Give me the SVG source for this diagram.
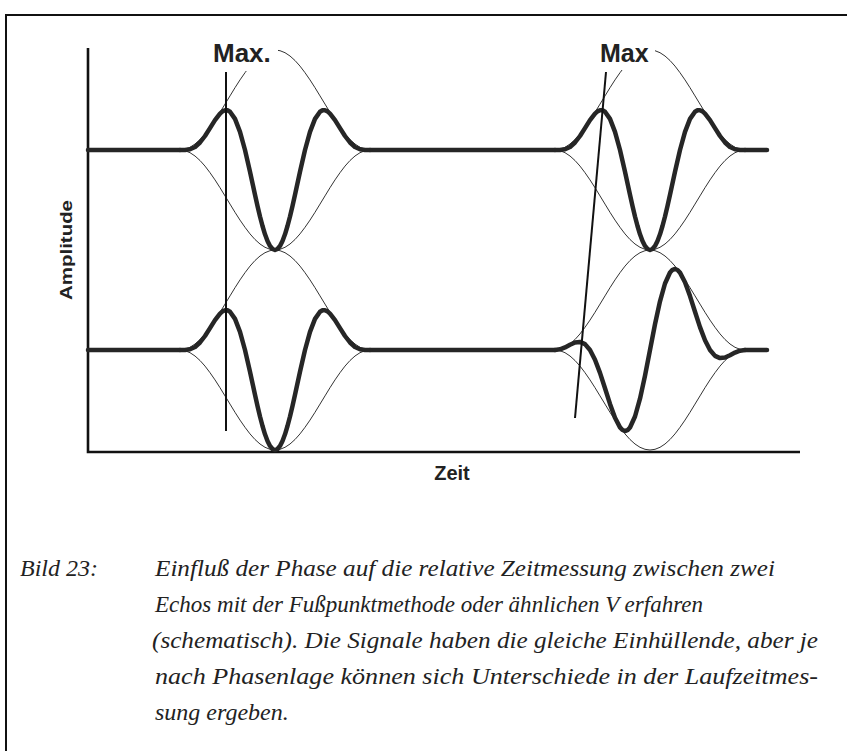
<svg xmlns="http://www.w3.org/2000/svg" xmlns:xlink="http://www.w3.org/1999/xlink" width="847" height="751" viewBox="0 0 847 751">
  <style>
    .frame { fill: none; stroke: #111; stroke-width: 2; }
    .axis { fill: none; stroke: #111; stroke-width: 2.6; stroke-linecap: butt; }
    .env { fill: none; stroke: #333; stroke-width: 1; stroke-linejoin: round; }
    .sig { fill: none; stroke: #262626; stroke-width: 4.5; stroke-linejoin: round; stroke-linecap: round; }
    .mark { fill: none; stroke: #111; stroke-width: 2; }
    .lbl { font-family: "Liberation Sans", Arial, sans-serif; font-weight: bold; fill: #222; }
    .cap { font-family: "Liberation Serif", "Times New Roman", serif; font-style: italic; font-size: 24px; fill: #222; }
  </style>
  <defs>
    <path id="env" d="M-95,0 L-90,-0.7 L-85,-2.7 L-80,-6 L-75,-10.5 L-70,-16.1 L-65,-22.7 L-60,-29.9 L-55,-37.7 L-50,-45.9 L-45,-54.1 L-40,-62.3 L-35,-70.1 L-30,-77.3 L-25,-83.9 L-20,-89.5 L-15,-94 L-10,-97.3 L-5,-99.3 L0,-100 L5,-99.3 L10,-97.3 L15,-94 L20,-89.5 L25,-83.9 L30,-77.3 L35,-70.1 L40,-62.3 L45,-54.1 L50,-45.9 L55,-37.7 L60,-29.9 L65,-22.7 L70,-16.1 L75,-10.5 L80,-6 L85,-2.7 L90,-0.7 L95,0"/>
    <path id="sigC" d="M-95,0 L-90,0 L-85,-0.7 L-80,-3 L-75,-7.5 L-70,-14 L-65,-21.9 L-60,-29.9 L-55,-36.4 L-52.5,-38.6 L-50,-39.7 L-47.5,-39.7 L-45,-38.3 L-40,-31.1 L-35,-18.1 L-30,0 L-25,21.7 L-20,44.7 L-17.5,55.9 L-15,66.5 L-12.5,76 L-10,84.3 L-7.5,91 L-5,95.9 L-2.5,99 L0,100 L2.5,99 L5,95.9 L7.5,91 L10,84.3 L12.5,76 L15,66.5 L17.5,55.9 L20,44.7 L25,21.7 L30,0 L35,-18.1 L40,-31.1 L45,-38.3 L47.5,-39.7 L50,-39.7 L52.5,-38.6 L55,-36.4 L60,-29.9 L65,-21.9 L70,-14 L75,-7.5 L80,-3 L85,-0.7 L90,0 L95,0"/>
    <path id="sigS" d="M-95,0 L-90,-0.7 L-85,-2.6 L-80,-5.2 L-75,-7.5 L-70,-8.1 L-65,-5.9 L-60,0 L-55,9.8 L-50,22.9 L-45,38.3 L-40,53.9 L-35,67.7 L-30,77.4 L-27.5,80 L-25,81 L-22.5,80.2 L-20,77.5 L-15,66.5 L-10,48.7 L-5,25.7 L0,0 L5,-25.7 L10,-48.7 L15,-66.5 L20,-77.5 L22.5,-80.2 L25,-81 L27.5,-80 L30,-77.4 L35,-67.7 L40,-53.9 L45,-38.3 L50,-22.9 L55,-9.8 L60,0 L65,5.9 L70,8.1 L75,7.5 L80,5.2 L85,2.6 L90,0.7 L95,0"/>
  </defs>

  <rect x="0" y="0" width="847" height="751" fill="#ffffff"/>

  <g id="frame">
    <path class="frame" d="M6,751 V15 H847"/>
  </g>

  <g id="axes">
    <path class="axis" d="M88,48 V452 H800"/>
  </g>

  <g id="envelopes">
    <use xlink:href="#env" class="env" transform="translate(275,150)"/>
    <use xlink:href="#env" class="env" transform="translate(275,150) scale(1,-1)"/>
    <use xlink:href="#env" class="env" transform="translate(275,350)"/>
    <use xlink:href="#env" class="env" transform="translate(275,350) scale(1,-1)"/>
    <use xlink:href="#env" class="env" transform="translate(650,150)"/>
    <use xlink:href="#env" class="env" transform="translate(650,150) scale(1,-1)"/>
    <use xlink:href="#env" class="env" transform="translate(650,350)"/>
    <use xlink:href="#env" class="env" transform="translate(650,350) scale(1,-1)"/>
  </g>

  <g id="label-masks">
    <rect x="206" y="30" width="72" height="41" fill="#ffffff"/>
    <rect x="594" y="30" width="61" height="40" fill="#ffffff"/>
  </g>

  <g id="signals">
    <g id="signal-top">
      <path class="sig" d="M88,150 H180 M370,150 H555 M745,150 H767"/>
      <use xlink:href="#sigC" class="sig" transform="translate(275,150)"/>
      <use xlink:href="#sigC" class="sig" transform="translate(650,150)"/>
    </g>
    <g id="signal-bottom">
      <path class="sig" d="M88,350 H180 M370,350 H555 M745,350 H767"/>
      <use xlink:href="#sigC" class="sig" transform="translate(275,350)"/>
      <use xlink:href="#sigS" class="sig" transform="translate(650,350)"/>
    </g>
  </g>

  <g id="markers">
    <line class="mark" x1="226" y1="72" x2="226" y2="431"/>
    <line class="mark" x1="606" y1="72" x2="575" y2="418"/>
  </g>

  <g id="labels">
    <text class="lbl" x="213" y="62" font-size="26">Max.</text>
    <text class="lbl" x="600" y="62" font-size="25">Max</text>
    <text class="lbl" x="452" y="480" font-size="20" text-anchor="middle">Zeit</text>
    <text class="lbl" font-size="17" text-anchor="middle" transform="translate(72,250) rotate(-90)" textLength="100" lengthAdjust="spacingAndGlyphs">Amplitude</text>
  </g>

  <g id="caption">
    <text class="cap" x="20" y="576">Bild 23:</text>
    <text class="cap" x="155" y="576" textLength="620" lengthAdjust="spacingAndGlyphs">Einfluß der Phase auf die relative Zeitmessung zwischen zwei</text>
    <text class="cap" x="155" y="612" textLength="548" lengthAdjust="spacingAndGlyphs">Echos mit der Fußpunktmethode oder ähnlichen V erfahren</text>
    <text class="cap" x="152" y="648" textLength="666" lengthAdjust="spacingAndGlyphs">(schematisch). Die Signale haben die gleiche Einhüllende, aber je</text>
    <text class="cap" x="155" y="684" textLength="663" lengthAdjust="spacingAndGlyphs">nach Phasenlage können sich Unterschiede in der Laufzeitmes-</text>
    <text class="cap" x="155" y="720">sung ergeben.</text>
  </g>
</svg>
